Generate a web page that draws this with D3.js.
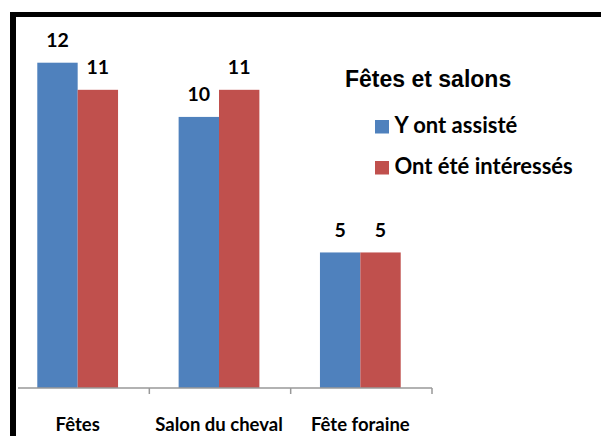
<!DOCTYPE html>
<html lang="fr">
<head>
<meta charset="UTF-8" />
<title>Fêtes et salons</title>
<script src="https://d3js.org/d3.v7.min.js"></script>
<style>
  body { margin: 0; background: #fff; }
  svg text { font-family: Lato, "Open Sans", sans-serif; font-weight: bold; fill: #000; }
  svg text.title { font-family: "Liberation Sans", Arial, sans-serif; }
</style>
</head>
<body>
<div id="chart"></div>
<script>
// chart data
var categories = ["Fêtes", "Salon du cheval", "Fête foraine"];
var seriesNames = ["Y ont assisté", "Ont été intéressés"];
var assisted = [12, 10, 5];
var interested = [11, 11, 5];
var chartTitle = "Fêtes et salons";

var colors = ["#4F81BD", "#C0504D"];
var width = 601, height = 436;

var svg = d3.select("#chart").append("svg")
    .attr("width", width)
    .attr("height", height);

// scales
var x = d3.scaleBand().domain(categories).range([7, 431]).paddingInner(0.4286).paddingOuter(0.2143);
var xs = d3.scaleBand().domain(seriesNames).range([0, x.bandwidth()]);
var y = d3.scaleLinear().domain([0, 12]).range([388, 62.7]);

var rows = categories.map(function(c, i) {
    return { cat: c, values: [assisted[i], interested[i]] };
});

var groups = svg.selectAll("g.grp").data(rows).enter().append("g")
    .attr("class", "grp")
    .attr("transform", function(d) { return "translate(" + x(d.cat) + ",0)"; });

groups.selectAll("rect").data(function(d) {
        return d.values.map(function(v, j) { return { name: seriesNames[j], v: v, j: j }; });
    }).enter().append("rect")
    .attr("x", function(d) { return xs(d.name); })
    .attr("y", function(d) { return y(d.v); })
    .attr("width", xs.bandwidth())
    .attr("height", function(d) { return y(0) - y(d.v); })
    .attr("fill", function(d) { return colors[d.j]; });

groups.selectAll("text.val").data(function(d) {
        return d.values.map(function(v, j) { return { name: seriesNames[j], v: v }; });
    }).enter().append("text")
    .attr("class", "val")
    .attr("x", function(d) { return xs(d.name) + xs.bandwidth() / 2; })
    .attr("y", function(d) { return y(d.v) - 15.5; })
    .attr("text-anchor", "middle")
    .style("font-size", "19.5px")
    .text(function(d) { return d.v; });

// x axis: plain baseline plus separators between categories
var axisG = svg.append("g").attr("transform", "translate(0," + y(0) + ")");
axisG.append("line").attr("x1", 18).attr("x2", 432).attr("y1", 0).attr("y2", 0)
    .attr("stroke", "#999").attr("stroke-width", 1.5);
var step = x.step();
var tickPos = categories.map(function(c) { return x(c) - x.paddingOuter() * step + step + 1; });
axisG.selectAll("line.sep").data(tickPos).enter().append("line")
    .attr("class", "sep")
    .attr("x1", function(d) { return d; }).attr("x2", function(d) { return d; })
    .attr("y1", 0).attr("y2", 6)
    .attr("stroke", "#999").attr("stroke-width", 1.5);

svg.selectAll("text.cat").data(categories).enter().append("text")
    .attr("class", "cat")
    .attr("x", function(d) { return x(d) + x.bandwidth() / 2; })
    .attr("y", 431)
    .attr("text-anchor", "middle")
    .style("font-size", "18.5px")
    .text(function(d) { return d; });

// legend
svg.append("text").attr("class", "title").attr("x", 345).attr("y", 87).style("font-size", "23px").text(chartTitle);
var leg = svg.selectAll("g.leg").data(seriesNames).enter().append("g")
    .attr("class", "leg")
    .attr("transform", function(d, i) { return "translate(375," + (120 + i * 41) + ")"; });
leg.append("rect").attr("width", 14).attr("height", 13.5)
    .attr("fill", function(d, i) { return colors[i]; });
leg.append("text").attr("x", 19.5).attr("y", 12.5).style("font-size", "22px").text(function(d) { return d; });

// frame (top and left black borders), drawn last so it sits on top
svg.append("rect").attr("x", 10).attr("y", 12).attr("width", width - 10).attr("height", 5).attr("fill", "#000");
svg.append("rect").attr("x", 10).attr("y", 12).attr("width", 6).attr("height", height - 12).attr("fill", "#000");
</script>
</body>
</html>
